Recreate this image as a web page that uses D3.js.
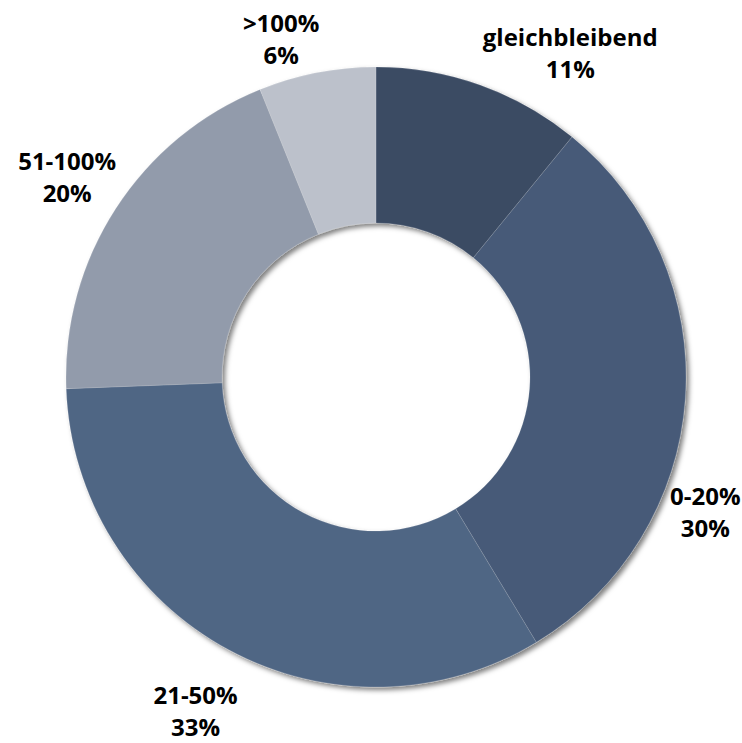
<!DOCTYPE html>
<html>
<head>
<meta charset="utf-8">
<script src="https://cdn.jsdelivr.net/npm/d3@7"></script>
<style>
  html, body { margin: 0; padding: 0; background: #ffffff; }
  svg { display: block; }
</style>
</head>
<body>
<svg id="chart" width="742" height="743"></svg>
<script>
// ---- data ----
const categories = ["gleichbleibend", "0-20%", "21-50%", "51-100%", ">100%"];
const values = [10.9, 30.45, 33.05, 19.5, 6.1];
const colors = ["#3b4b64", "#465a78", "#506684", "#929bab", "#bcc1cb"];

// ---- layout ----
const W = 742, H = 743;
const cx = 376, cy = 377;
const outerR = 310, innerR = 154;
// label placement: radius from centre and angular nudge (degrees) per label
const labelRadius = [378, 356, 380, 368, 351];
const labelAngleShift = [11.3, 18.3, 0, 0, -4.7];

const svg = d3.select("#chart");

const defs = svg.append("defs");
const f = defs.append("filter").attr("id", "shadow")
  .attr("x", "-10%").attr("y", "-10%").attr("width", "120%").attr("height", "120%");
f.append("feDropShadow")
  .attr("dx", 3).attr("dy", 3).attr("stdDeviation", 2.5)
  .attr("flood-color", "#000").attr("flood-opacity", 0.5);

const data = categories.map((c, i) => ({ cat: c, value: values[i], color: colors[i] }));

const pie = d3.pie().value(d => d.value).sort(null);
const arcs = pie(data);
const arc = d3.arc().innerRadius(innerR).outerRadius(outerR);

const g = svg.append("g").attr("transform", `translate(${cx},${cy})`);

g.append("g").attr("filter", "url(#shadow)")
  .selectAll("path").data(arcs).join("path")
  .attr("d", arc)
  .attr("fill", d => d.data.color)
  .attr("stroke", "#ffffff")
  .attr("stroke-opacity", 0.25)
  .attr("stroke-width", 0.6);

const fmt = v => Math.round(v) + "%";

const labels = g.append("g")
  .selectAll("text").data(arcs).join("text")
  .attr("font-family", "'Open Sans', 'Noto Sans', sans-serif")
  .attr("font-weight", 700)
  .attr("font-size", 24)
  .attr("fill", "#000000")
  .attr("text-anchor", "middle")
  .attr("transform", (d, i) => {
    const a = (d.startAngle + d.endAngle) / 2 + labelAngleShift[i] * Math.PI / 180;
    const r = labelRadius[i];
    const x = Math.sin(a) * r;
    const y = -Math.cos(a) * r;
    return `translate(${x},${y})`;
  });

labels.append("tspan").attr("x", 0).attr("y", -7).text(d => d.data.cat);
labels.append("tspan").attr("x", 0).attr("y", 25).text(d => fmt(d.data.value));
</script>
</body>
</html>
